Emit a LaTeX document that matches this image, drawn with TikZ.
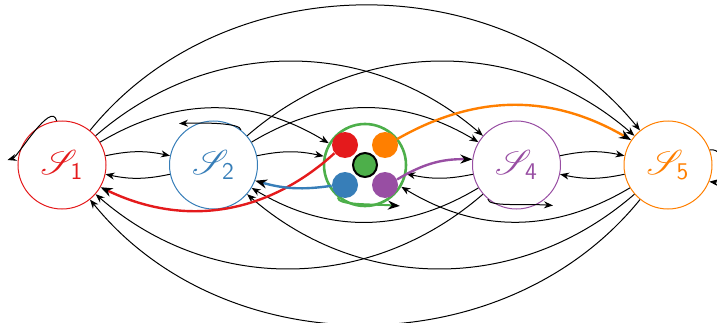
\documentclass[tikz,border=0pt]{standalone}
\usepackage{mathrsfs}
\usetikzlibrary{arrows.meta}
\definecolor{setred}{HTML}{E41A1C}
\definecolor{setblue}{HTML}{377EB8}
\definecolor{setgreen}{HTML}{4DAF4A}
\definecolor{setpurple}{HTML}{984EA3}
\definecolor{setorange}{HTML}{FF7F00}
\tikzset{
    sys/.style={circle, draw=#1, text=#1, line width=0.5pt, minimum size=44pt, inner sep=0pt, font=\fontsize{17}{20}\selectfont},
    agent/.style={circle, fill=#1, minimum size=13pt, inner sep=0pt},
    trans/.style={-{Stealth[length=4.5pt,width=3.5pt]}, line width=0.5pt},
    colflow/.style={-{Stealth[length=6pt,width=4.5pt,color=black]}, draw=#1, line width=1.2pt}
}
\begin{document}
\begin{tikzpicture}[x=0.5pt, y=0.5pt]
    \useasboundingbox (0,0) rectangle (717,322);
    \node[sys=setred] (s1) at (62,157) {$\mathscr{S}_{\mathsf{1}}$};
    \node[sys=setblue] (s2) at (213.5,157) {$\mathscr{S}_{\mathsf{2}}$};
    \node[circle, draw=setgreen, line width=1.3pt, minimum size=41pt, inner sep=0pt] (s3) at (365,157) {};
    \node[agent=setred] (d1) at (345,177) {};
    \node[agent=setorange] (d5) at (385,177) {};
    \node[agent=setblue] (d2) at (345,137) {};
    \node[agent=setpurple] (d4) at (385,137) {};
    \node[circle, fill=setgreen, draw=black, line width=1pt, minimum size=12pt, inner sep=0pt] (d3) at (365,157) {};
    \node[sys=setpurple] (s4) at (516.5,157) {$\mathscr{S}_{\mathsf{4}}$};
    \node[sys=setorange] (s5) at (668,157) {$\mathscr{S}_{\mathsf{5}}$};

    \draw[trans] (s1) to[bend left=12] (s2);
    \draw[trans] (s1) to[bend left=31] (s3);
    \draw[trans] (s1) to[bend left=41] (s4);
    \draw[trans] (s1) to[bend left=51] (s5);
    \draw[trans] (s2) to[bend left=12] (s3);
    \draw[trans] (s2) to[bend left=31] (s4);
    \draw[trans] (s2) to[bend left=41] (s5);
    \draw[trans] (s4) to[bend left=12] (s5);

    \draw[trans] (s2) to[bend left=12] (s1);
    \draw[trans] (s4) to[bend left=41] (s1);
    \draw[trans] (s5) to[bend left=51] (s1);
    \draw[trans] (s4) to[bend left=31] (s2);
    \draw[trans] (s5) to[bend left=41] (s2);
    \draw[trans] (s4) to[bend left=12] (s3);
    \draw[trans] (s5) to[bend left=31] (s3);
    \draw[trans] (s5) to[bend left=12] (s4);

    \draw[colflow=setred] (d1) to[bend left=34] (s1);
    \draw[colflow=setblue] (d2) to[bend left=12] (s2);
    \draw[colflow=setpurple] (d4) to[bend left=16] (s4);
    \draw[colflow=setorange] (d5) to[bend left=30] (s5);

    \draw[trans] (s1.97) .. controls +(-5,21) and +(10,3) .. ([shift={(-10,5)}]s1.west);
    \draw[trans] (s2.52) .. controls +(0,7) and +(25,1) .. ([shift={(-3,10)}]s2.135);
    \draw[colflow=setgreen, line width=1pt] (s3.230) .. controls +(0,-8) and +(-30,2) .. ([shift={(5,-11)}]s3.south east);
    \draw[trans] (s4.230) .. controls +(0,-8) and +(-30,2) .. ([shift={(5,-9)}]s4.south east);
    \draw[trans] (s5.20) .. controls +(18,2) and +(18,-2) .. (s5.-22);
\end{tikzpicture}
\end{document}
